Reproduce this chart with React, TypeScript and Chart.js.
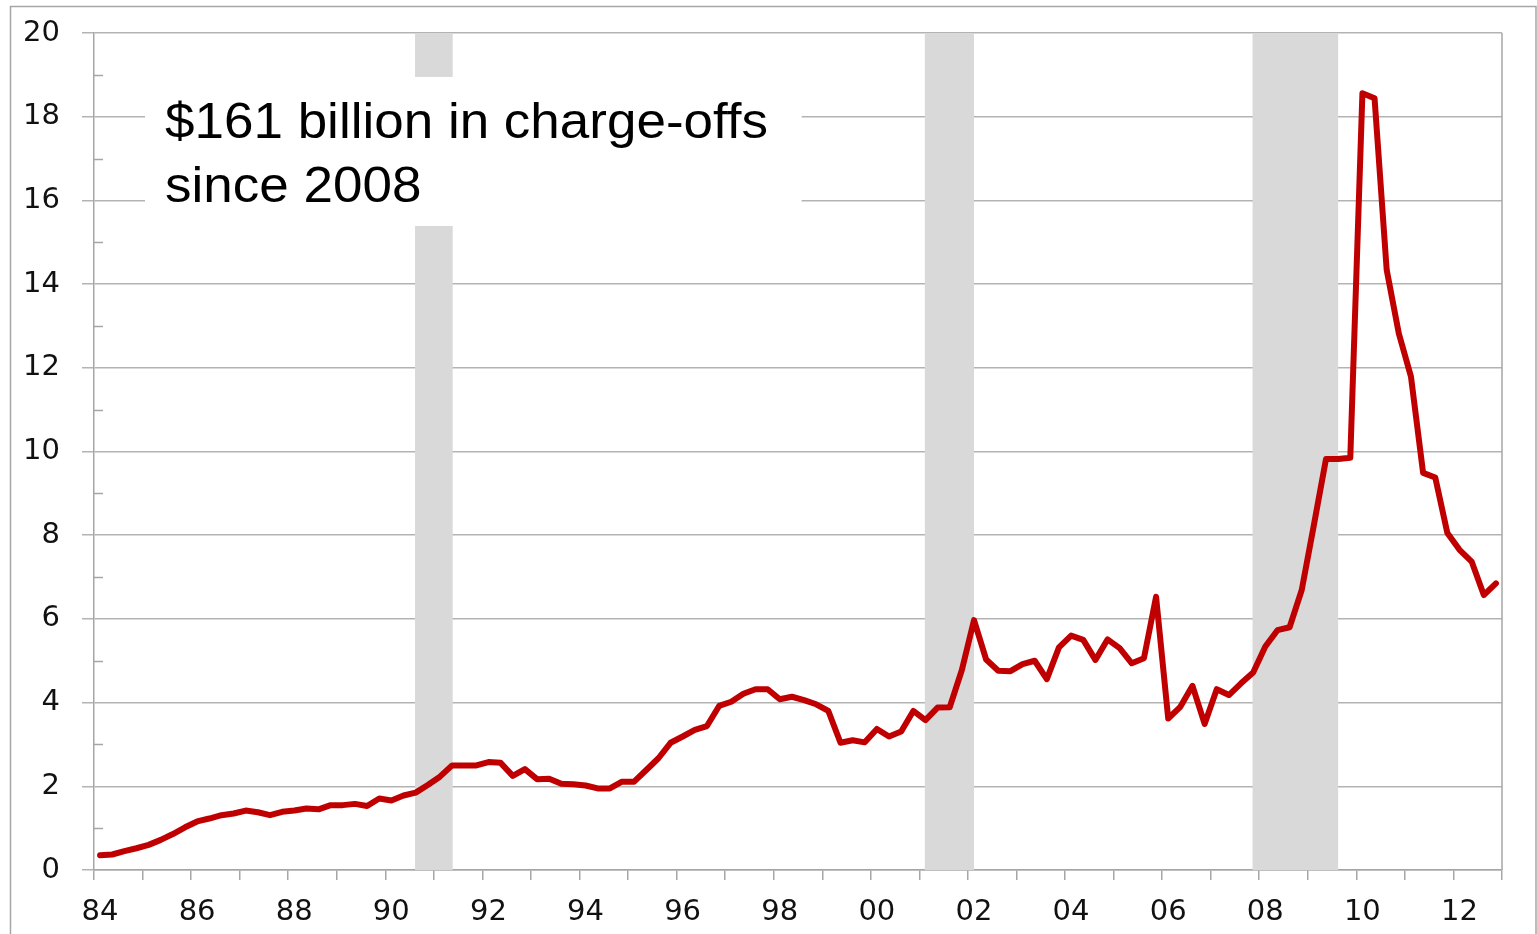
import React, { useEffect, useRef } from 'react';
import { Chart, registerables } from 'chart.js';

Chart.register(...registerables);

// Quarterly charge-offs, 1984 Q1 .. 2012 Q4 (billions of dollars)
const chargeOffs = [
  0.35, 0.37, 0.45, 0.52, 0.60, 0.72, 0.86, 1.02,
  1.16, 1.23, 1.31, 1.35, 1.42, 1.38, 1.31, 1.39,
  1.42, 1.47, 1.45, 1.55, 1.55, 1.58, 1.53, 1.71,
  1.66, 1.78, 1.85, 2.03, 2.23, 2.50, 2.50, 2.50,
  2.58, 2.56, 2.25, 2.41, 2.17, 2.18, 2.06, 2.05,
  2.02, 1.95, 1.95, 2.11, 2.11, 2.39, 2.67, 3.04,
  3.19, 3.35, 3.44, 3.92, 4.02, 4.21, 4.32, 4.32,
  4.08, 4.14, 4.06, 3.96, 3.80, 3.04, 3.10, 3.05,
  3.37, 3.19, 3.31, 3.80, 3.58, 3.88, 3.89, 4.78,
  5.97, 5.03, 4.76, 4.75, 4.92, 5.00, 4.56, 5.32,
  5.60, 5.50, 5.02, 5.51, 5.30, 4.94, 5.06, 6.53,
  3.62, 3.90, 4.40, 3.49, 4.32, 4.18, 4.46, 4.72,
  5.34, 5.73, 5.80, 6.69, 8.24, 9.82, 9.82, 9.85,
  18.56, 18.44, 14.34, 12.82, 11.79, 9.49, 9.38, 8.05,
  7.65, 7.37, 6.57, 6.85,
];

// x tick labels, one every two years (every 8 quarters)
const xTickLabels = ['84', '86', '88', '90', '92', '94', '96', '98', '00', '02', '04', '06', '08', '10', '12'];

// Recessions, in quarters since 1984 Q1
const recessionStart = [26.45, 68.45, 95.45];
const recessionEnd = [29.55, 72.5, 102.5];

const annotationLines = ['$161 billion in charge-offs', 'since 2008'];

const W = 1537;
const H = 934;

const decorPlugin = {
  id: 'decor',
  beforeDraw(chart: any) {
    const ctx = chart.ctx;
    ctx.save();
    ctx.fillStyle = '#ffffff';
    ctx.fillRect(0, 0, chart.width, chart.height);
    ctx.strokeStyle = '#a6a6a6';
    ctx.lineWidth = 1.5;
    ctx.strokeRect(10.5, 6.5, chart.width - 11.5, chart.height + 20);
    ctx.restore();
  },
  beforeDatasetsDraw(chart: any) {
    const { ctx, chartArea: a, scales } = chart;
    const x = scales.x;
    const y = scales.y;
    ctx.save();
    // recession bars
    ctx.fillStyle = '#d9d9d9';
    recessionStart.forEach((s, k) => {
      const x0 = x.getPixelForValue(s);
      const x1 = x.getPixelForValue(recessionEnd[k]);
      ctx.fillRect(x0, a.top, x1 - x0, a.bottom - a.top);
    });
    // minor ticks on y axis (inside)
    ctx.strokeStyle = '#a6a6a6';
    ctx.lineWidth = 1.5;
    for (let v = 1; v < 20; v += 2) {
      const py = Math.round(y.getPixelForValue(v)) + 0.5;
      ctx.beginPath();
      ctx.moveTo(a.left, py);
      ctx.lineTo(a.left + 9, py);
      ctx.stroke();
    }
    // right border of plot
    ctx.beginPath();
    ctx.moveTo(a.right, a.top);
    ctx.lineTo(a.right, a.bottom);
    ctx.stroke();
    // annotation box
    const bx0 = x.getPixelForValue(4.2);
    const bx1 = x.getPixelForValue(58.3);
    const by0 = y.getPixelForValue(18.95);
    const by1 = y.getPixelForValue(15.39);
    ctx.fillStyle = '#ffffff';
    ctx.fillRect(bx0, by0, bx1 - bx0, by1 - by0);
    // annotation text
    ctx.fillStyle = '#000000';
    ctx.font = '50px "Liberation Sans", Arial, sans-serif';
    ctx.textBaseline = 'alphabetic';
    ctx.textAlign = 'left';
    const tx = x.getPixelForValue(5.85);
    const baselines = [17.49, 15.96];
    annotationLines.forEach((line, k) => {
      ctx.save();
      ctx.translate(tx, y.getPixelForValue(baselines[k]));
      ctx.scale(1.06, 1);
      ctx.fillText(line, 0, 0);
      ctx.restore();
    });
    ctx.restore();
  },
};

export default function App() {
  const ref = useRef<HTMLCanvasElement | null>(null);

  useEffect(() => {
    if (!ref.current) return;
    const points = chargeOffs.map((v, i) => ({ x: i + 0.5, y: v }));
    const tickFont = { family: '"DejaVu Sans", sans-serif', size: 29 };
    const chart = new Chart(ref.current, {
      type: 'line',
      data: {
        datasets: [
          {
            data: points,
            borderColor: '#c00000',
            borderWidth: 6,
            pointRadius: 0,
            tension: 0,
            borderJoinStyle: 'round',
            borderCapStyle: 'round',
            fill: false,
          },
        ],
      },
      options: {
        responsive: false,
        animation: false,
        devicePixelRatio: 1,
        layout: { padding: { left: 0, right: 35, top: 33, bottom: 0 } },
        plugins: {
          legend: { display: false },
          tooltip: { enabled: false },
        },
        scales: {
          x: {
            type: 'linear',
            min: 0,
            max: chargeOffs.length,
            afterFit(scale: any) {
              scale.height = H - 870;
              scale.paddingLeft = 0;
              scale.paddingRight = 0;
            },
            ticks: {
              stepSize: 4,
              maxTicksLimit: 200,
              autoSkip: false,
              maxRotation: 0,
              minRotation: 0,
              padding: 15,
              labelOffset: 6,
              color: '#111111',
              font: tickFont,
              callback: (value: any) => {
                const v = Number(value);
                return v % 8 === 0 ? xTickLabels[v / 8] ?? '' : '';
              },
            },
            grid: {
              display: true,
              drawOnChartArea: false,
              drawTicks: true,
              tickLength: 10,
              color: '#a6a6a6',
              lineWidth: 1.5,
            },
            border: { display: true, color: '#a6a6a6', width: 1.5 },
          },
          y: {
            type: 'linear',
            min: 0,
            max: 20,
            afterFit(scale: any) {
              scale.width = 94;
              scale.paddingTop = 0;
              scale.paddingBottom = 0;
            },
            ticks: {
              stepSize: 2,
              padding: 22,
              color: '#111111',
              font: tickFont,
              callback: (value: any) => String(value),
            },
            grid: {
              color: '#b3b3b3',
              lineWidth: 1.5,
              tickLength: 12,
            },
            border: { display: true, color: '#a6a6a6', width: 1.5 },
          },
        },
      },
      plugins: [decorPlugin],
    } as any);
    return () => chart.destroy();
  }, []);

  return (
    <div style={{ position: 'absolute', left: 0, top: 0, width: W, height: H, background: '#fff' }}>
      <canvas ref={ref} width={W} height={H} style={{ display: 'block', width: W, height: H }} />
    </div>
  );
}
